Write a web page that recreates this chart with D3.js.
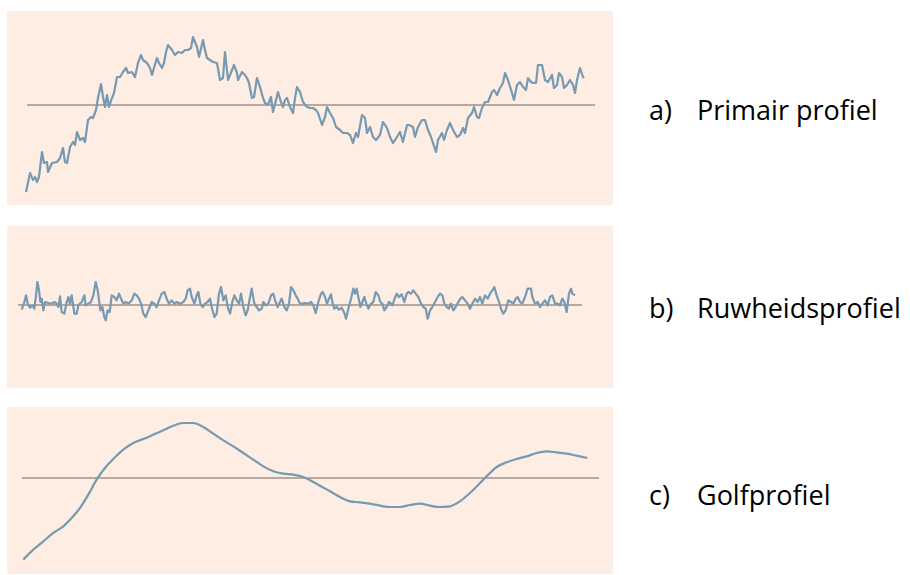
<!DOCTYPE html>
<html>
<head>
<meta charset="utf-8">
<script src="https://cdn.jsdelivr.net/npm/d3@7"></script>
<style>
  body { margin: 0; background: #fff; }
  svg { display: block; }
</style>
</head>
<body>
<svg id="chart" width="910" height="575"></svg>
<script>
// profile readings: [position, height] pairs, each profile in its own units
const primair = [[0,-87],[4,-68],[7,-75],[9,-72],[11,-77],[13,-72],[16,-47],[18,-58],[21,-57],[22,-67],[26,-58],[31,-57],[34,-53],[37,-43],[39,-57],[41,-58],[44,-42],[47,-37],[49,-40],[51,-27],[54,-35],[57,-33],[59,-37],[62,-15],[65,-12],[67,-13],[70,-5],[72,7],[75,21],[77,8],[79,-2],[81,10],[83,-2],[86,7],[88,12],[91,28],[94,28],[97,33],[100,37],[102,32],[106,33],[109,28],[112,42],[115,50],[117,45],[121,42],[124,37],[126,30],[128,37],[131,47],[133,42],[136,37],[138,42],[140,53],[142,60],[146,55],[149,50],[152,53],[156,52],[159,55],[162,55],[165,57],[167,68],[171,58],[173,48],[177,65],[179,55],[181,47],[184,45],[187,43],[191,42],
  [194,25],[197,27],[199,53],[202,25],[206,35],[208,40],[211,32],[212,25],[216,33],[219,30],[221,27],[223,22],[226,7],[228,8],[231,27],[234,18],[237,7],[239,2],[242,0],[245,8],[247,-7],[250,5],[252,13],[255,3],[257,-2],[259,5],[261,7],[264,-2],[267,-8],[269,7],[271,18],[274,13],[277,3],[281,-2],[284,-3],[287,-3],[290,-5],[292,-8],[296,-20],[299,-12],[301,-2],[304,-8],[307,-13],[310,-22],[314,-25],[317,-28],[321,-28],[324,-30],[327,-38],[330,-28],[332,-32],[336,-10],[339,-13],[341,-28],[344,-22],[347,-32],[350,-35],[354,-30],[357,-17],[361,-23],[364,-32],[367,-38],[371,-32],[374,-27],[377,-37],[381,-20],
  [383,-20],[387,-22],[389,-32],[392,-22],[396,-15],[399,-15],[402,-25],[405,-32],[407,-38],[410,-47],[412,-35],[416,-28],[418,-35],[421,-25],[424,-18],[427,-25],[431,-32],[434,-30],[437,-23],[439,-28],[442,-13],[446,-8],[448,-2],[451,-12],[453,-13],[456,-3],[459,3],[462,3],[466,13],[468,15],[471,10],[474,17],[477,22],[479,32],[482,25],[486,12],[488,5],[491,20],[494,23],[497,18],[500,15],[502,27],[505,23],[507,22],[510,22],[512,40],[516,40],[519,25],[522,23],[526,30],[528,17],[531,20],[533,32],[536,28],[538,17],[541,20],[544,25],[547,20],[549,12],[551,25],[554,37],[557,28],[558,27]];

const ruwheid = [[20,-14],[28,9],[33,29],[38,4],[45,-8],[52,-1],[58,-11],[63,29],[67,69],[72,44],[76,9],[80,19],[85,-16],[90,9],[100,6],[110,4],[118,9],[125,4],[130,-6],[135,26],[140,-21],[148,-26],[155,9],[160,24],[165,4],[170,29],[178,-26],[185,-26],[190,-1],[200,9],[208,29],[212,-1],[220,4],[228,9],[235,29],[242,69],[248,44],[252,14],[256,-16],[262,-6],[268,-36],[272,-46],[278,-16],[284,-21],[290,29],[298,24],[305,14],[312,34],[318,19],[325,4],[332,9],[340,4],[350,14],[358,34],[365,29],[372,19],[378,4],[385,-26],[392,-36],[400,-16],[410,9],[418,4],[425,-6],[432,14],[440,34],[448,39],[455,19],[462,4],[470,14],[478,4],[485,9],[495,4],[505,9],[512,19],[518,44],[525,49],[530,24],[538,4],[545,29],[550,39],[556,4],[563,-6],[570,4],[578,9],[585,19],[590,-6],[598,-36],[605,-26],[612,34],[618,54],[625,14],[632,29],[638,-6],[645,-26],[652,9],[658,29],[665,14],[672,4],[678,34],[685,-6],[692,-31],[698,-16],[705,24],[710,49],[718,4],[725,-6],[732,-16],[740,-11],[745,9],[752,-1],[760,4],[768,29],[775,34],[780,14],[788,-6],[795,9],[800,19],[808,-6],[815,-16],[822,4],[828,54],[835,44],[842,29],[848,19],[855,4],[862,4],
  [870,6],[880,4],[888,9],[895,-1],[902,-24],[910,9],[918,34],[923,39],[930,24],[936,4],[942,19],[948,32],[953,4],[958,-11],[965,-6],[972,-14],[980,-8],[988,-24],[993,-41],[1000,-11],[1008,19],[1015,49],[1020,34],[1025,49],[1030,24],[1036,-6],[1042,9],[1048,24],[1054,4],[1060,-11],[1068,4],[1075,9],[1082,39],[1090,29],[1096,9],[1102,4],[1108,-16],[1115,-6],[1122,9],[1128,4],[1132,-1],[1138,16],[1145,34],[1152,24],[1160,32],[1168,9],[1175,34],[1180,39],[1188,34],[1195,44],[1202,34],[1210,24],[1218,4],[1225,-6],[1232,-11],[1238,-41],[1245,-16],[1252,-6],[1260,9],[1268,24],[1275,34],[1282,29],[1288,4],[1295,-6],[1302,-11],[1308,4],[1315,-16],[1322,-6],[1330,9],[1336,19],[1342,24],[1350,14],[1358,4],[1365,-11],[1372,4],[1380,19],[1388,9],[1395,24],[1402,4],[1410,29],[1418,19],[1425,34],[1432,44],[1438,54],[1445,29],[1452,9],[1458,-11],[1465,-26],[1472,-16],[1480,14],[1488,9],[1495,4],[1502,19],[1508,24],[1515,9],[1522,4],[1530,24],[1538,49],[1548,49],[1552,24],[1560,4],[1568,9],[1575,-6],[1582,4],[1590,14],[1598,-1],[1605,24],[1612,29],[1620,4],[1628,4],[1635,-1],[1642,19],[1648,9],[1655,-21],[1662,34],[1668,49],[1672,34],[1680,29]];

const golf = [[70,-245],[100,-215],[130,-190],[160,-165],[190,-145],[215,-120],[240,-90],[265,-50],[290,-5],[315,30],[340,57],[370,85],[400,105],[430,117],[460,130],[490,143],[520,157],[550,165],[580,165],[610,153],[640,133],[670,113],[700,95],[730,75],[760,55],[790,35],[820,20],[850,13],[880,10],[910,3],
  [930,-7],[960,-23],[990,-40],[1020,-57],[1050,-70],[1080,-73],[1110,-77],[1140,-83],[1170,-87],[1200,-87],[1230,-81],[1260,-77],[1290,-83],[1320,-87],[1350,-85],[1380,-70],[1410,-45],[1440,-15],[1465,10],[1490,33],[1520,47],[1550,57],[1580,65],[1610,75],[1640,80],[1670,77],[1700,73],[1730,67],[1762,60]];

// mean line extents, in each profile's x units
const meanPrimair = [1, 569];
const meanRuwheid = [9, 1701];
const meanGolf = [66, 1797];

const labels = [
  { letter: 'a)', text: 'Primair profiel' },
  { letter: 'b)', text: 'Ruwheidsprofiel' },
  { letter: 'c)', text: 'Golfprofiel' }
];

const bgColor = '#fdede3';
const lineColor = '#7799b1';
const meanColor = '#a38f86';

const svg = d3.select('#chart');

const panels = [
  { data: primair, mean: meanPrimair, curve: d3.curveLinear,
    box: { x: 7, y: 11, w: 606, h: 194 },
    xDomain: [0, 558], xRange: [26, 584],
    yDomain: [-90, 90], yRange: [195, 15], labelY: 120 },
  { data: ruwheid, mean: meanRuwheid, curve: d3.curveLinear,
    box: { x: 7, y: 226, w: 606, h: 162 },
    xDomain: [20, 1680], xRange: [21.7, 575],
    yDomain: [-240, 240], yRange: [385, 225], labelY: 318 },
  { data: golf, mean: meanGolf, curve: d3.curveMonotoneX,
    box: { x: 7, y: 407, w: 606, h: 167 },
    xDomain: [70, 1762], xRange: [23.3, 587.3],
    yDomain: [-250, 250], yRange: [561.3, 394.7], labelY: 505 }
];

panels.forEach(function(p, i) {
  const x = d3.scaleLinear().domain(p.xDomain).range(p.xRange);
  const y = d3.scaleLinear().domain(p.yDomain).range(p.yRange);

  const g = svg.append('g');

  g.append('rect')
    .attr('x', p.box.x)
    .attr('y', p.box.y)
    .attr('width', p.box.w)
    .attr('height', p.box.h)
    .attr('fill', bgColor);

  g.append('line')
    .attr('x1', x(p.mean[0]))
    .attr('x2', x(p.mean[1]))
    .attr('y1', y(0))
    .attr('y2', y(0))
    .attr('stroke', meanColor)
    .attr('stroke-width', 1.7);

  const line = d3.line()
    .x(d => x(d[0]))
    .y(d => y(d[1]))
    .curve(p.curve);

  g.append('path')
    .datum(p.data)
    .attr('d', line)
    .attr('fill', 'none')
    .attr('stroke', lineColor)
    .attr('stroke-width', 2.2)
    .attr('stroke-linejoin', 'round');

  const lab = svg.append('g')
    .attr('font-family', 'Open Sans, sans-serif')
    .attr('font-size', 27)
    .attr('fill', '#000');
  lab.append('text')
    .attr('x', 649)
    .attr('y', p.labelY)
    .text(labels[i].letter);
  lab.append('text')
    .attr('x', 697)
    .attr('y', p.labelY)
    .text(labels[i].text);
});
</script>
</body>
</html>
